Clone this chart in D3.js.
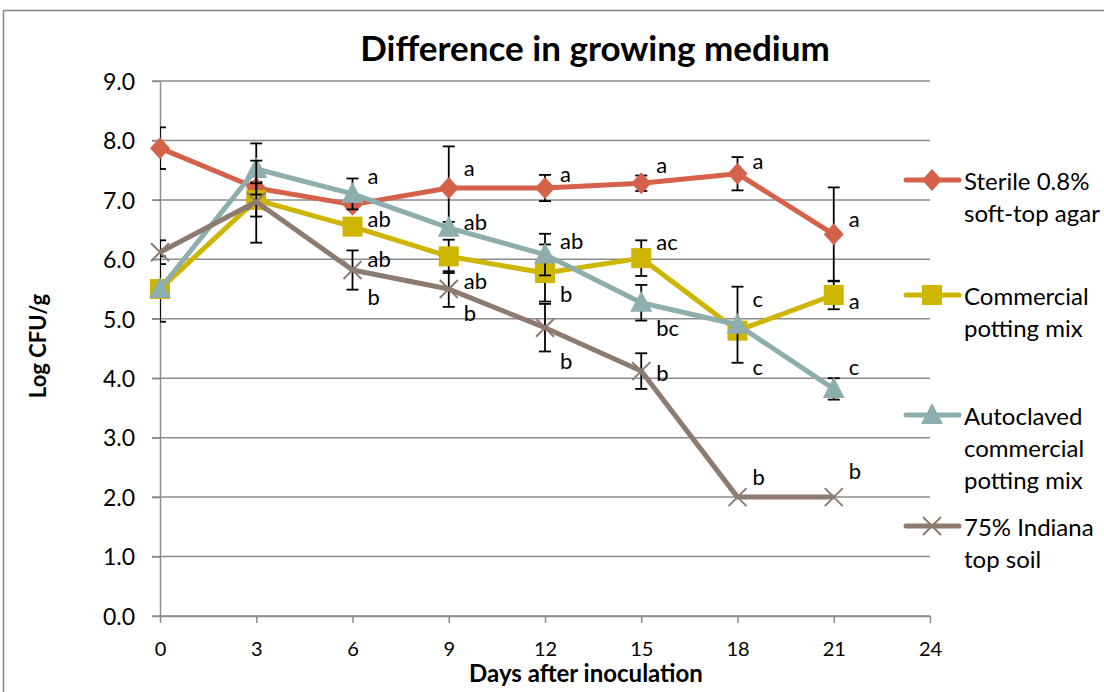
<!DOCTYPE html>
<html>
<head>
<meta charset="utf-8">
<script src="https://cdn.jsdelivr.net/npm/d3@7"></script>
<style>
  body { margin: 0; background: #fff; }
  svg { display: block; font-family: Lato, "Liberation Sans", sans-serif; }
</style>
</head>
<body>
<svg id="chart" width="1104" height="692"></svg>
<script>
// values
const days = [0, 3, 6, 9, 12, 15, 18, 21];
const xTicks = [0, 3, 6, 9, 12, 15, 18, 21, 24];
const yTicks = [0, 1, 2, 3, 4, 5, 6, 7, 8, 9];

const sterile = [7.87, 7.2, 6.92, 7.2, 7.2, 7.28, 7.44, 6.42];
const sterileErr = [0.35, 0.1, 0.05, 0.7, 0.22, 0.13, 0.28, 0.79];
const potting = [5.5, 7.0, 6.55, 6.05, 5.77, 6.02, 4.8, 5.4];
const pottingErr = [0.55, 0.28, 0.1, 0.28, 0.48, 0.3, 0.12, 0.24];
const autoclaved = [5.5, 7.52, 7.1, 6.53, 6.08, 5.27, 4.9, 3.82];
const autoclavedErr = [0.1, 0.43, 0.26, 0.1, 0.35, 0.3, 0.64, 0.18];
const indiana = [6.12, 6.97, 5.82, 5.5, 4.85, 4.12, 2.0, 2.0];
const indianaErr = [0.2, 0.69, 0.33, 0.3, 0.4, 0.3, 0, 0];

// significance letters: day, value where the letter sits, text
const letters = [
  [6, 7.39, "a"], [6, 6.66, "ab"], [6, 5.99, "ab"], [6, 5.35, "b"],
  [9, 7.52, "a"], [9, 6.61, "ab"], [9, 5.62, "ab"], [9, 5.08, "b"],
  [12, 7.42, "a"], [12, 6.29, "ab"], [12, 5.4, "b"], [12, 4.27, "b"],
  [15, 7.57, "a"], [15, 6.28, "ac"], [15, 4.83, "bc"], [15, 4.07, "b"],
  [18, 7.64, "a"], [18, 5.32, "c"], [18, 4.17, "c"], [18, 2.32, "b"],
  [21, 6.66, "a"], [21, 5.28, "a"], [21, 4.17, "c"], [21, 2.42, "b"]
];

const seriesNames = [
  ["Sterile 0.8%", "soft-top agar"],
  ["Commercial", "potting mix"],
  ["Autoclaved", "commercial", "potting mix"],
  ["75% Indiana", "top soil"]
];

const series = [
  { name: seriesNames[0], values: sterile, err: sterileErr, color: "#d6614a", marker: "diamond" },
  { name: seriesNames[1], values: potting, err: pottingErr, color: "#cdb500", marker: "square" },
  { name: seriesNames[2], values: autoclaved, err: autoclavedErr, color: "#8daead", marker: "triangle" },
  { name: seriesNames[3], values: indiana, err: indianaErr, color: "#8d7b70", marker: "cross" }
];

const svg = d3.select("#chart");
const plotLeft = 160, plotRight = 930, plotTop = 81, plotBottom = 616;

const x = d3.scaleLinear().domain([0, 24]).range([plotLeft, plotRight]);
const y = d3.scaleLinear().domain([0, 9]).range([plotBottom, plotTop]);

// outer chart frame
svg.append("path")
  .attr("d", "M3.5,692 V10.5 H1104")
  .attr("fill", "none")
  .attr("stroke", "#868686")
  .attr("stroke-width", 1.5);

// title
svg.append("text")
  .attr("x", 595).attr("y", 61)
  .attr("text-anchor", "middle")
  .style("font-size", "35px").style("font-weight", "bold")
  .text("Difference in growing medium");

// gridlines
svg.append("g")
  .selectAll("line")
  .data(yTicks)
  .enter().append("line")
  .attr("x1", plotLeft - 8).attr("x2", plotRight)
  .attr("y1", d => y(d)).attr("y2", d => y(d))
  .attr("stroke", "#8c8c8c").attr("stroke-width", 1.5);

// y axis
const yAxis = svg.append("g")
  .attr("transform", `translate(${plotLeft},0)`)
  .call(d3.axisLeft(y).tickValues(yTicks).tickFormat(d3.format(".1f")).tickSize(8).tickSizeOuter(0));
yAxis.select(".domain").attr("stroke", "#8c8c8c").attr("stroke-width", 1.5);
yAxis.selectAll(".tick line").attr("stroke", "#8c8c8c").attr("stroke-width", 1.5);
yAxis.selectAll("text").attr("x", -25).attr("dy", "0.36em")
  .style("font-size", "23px").style("font-family", "Lato").attr("fill", "#000");

// x axis
const xAxis = svg.append("g")
  .attr("transform", `translate(0,${plotBottom})`)
  .call(d3.axisBottom(x).tickValues(xTicks).tickSize(7).tickSizeOuter(0));
xAxis.select(".domain").attr("stroke", "#8c8c8c").attr("stroke-width", 1.5);
xAxis.selectAll(".tick line").attr("stroke", "#8c8c8c").attr("stroke-width", 1.5);
xAxis.selectAll("text").attr("y", 40).attr("dy", 0)
  .style("font-size", "20px").style("font-family", "Lato").attr("fill", "#000");

// axis titles
svg.append("text")
  .attr("x", 586).attr("y", 682)
  .attr("text-anchor", "middle")
  .style("font-size", "24px").style("font-weight", "bold")
  .text("Days after inoculation");

svg.append("text")
  .attr("transform", "translate(46,346) rotate(-90)")
  .attr("text-anchor", "middle")
  .style("font-size", "22px").style("font-weight", "bold")
  .text("Log CFU/g");

// marker drawing
function drawMarker(g, type, color) {
  if (type === "diamond") {
    g.append("path").attr("d", "M0,-11 L10,0 L0,11 L-10,0 Z").attr("fill", color);
  } else if (type === "square") {
    g.append("rect").attr("x", -10).attr("y", -10).attr("width", 20).attr("height", 20).attr("fill", color);
  } else if (type === "triangle") {
    g.append("path").attr("d", "M0,-12 L11,9 L-11,9 Z").attr("fill", color);
  } else {
    g.append("path").attr("d", "M-9,-9 L9,9 M-9,9 L9,-9")
      .attr("stroke", color).attr("stroke-width", 2);
  }
}

svg.append("clipPath").attr("id", "plotClip")
  .append("rect").attr("x", plotLeft).attr("y", 0).attr("width", plotRight - plotLeft).attr("height", 692);

const line = d3.line().x((d, i) => x(days[i])).y(d => y(d));

series.forEach(s => {
  const g = svg.append("g");
  // error bars
  const eb = g.append("g").attr("clip-path", "url(#plotClip)");
  s.values.forEach((v, i) => {
    const e = s.err[i];
    if (!e) return;
    const cx = x(days[i]);
    eb.append("line").attr("x1", cx).attr("x2", cx)
      .attr("y1", y(v + e)).attr("y2", y(v - e));
    [v + e, v - e].forEach(t => {
      eb.append("line").attr("x1", cx - 6).attr("x2", cx + 6)
        .attr("y1", y(t)).attr("y2", y(t));
    });
  });
  eb.selectAll("line").attr("stroke", "#000").attr("stroke-width", 1.8);

  g.append("path")
    .datum(s.values)
    .attr("d", line)
    .attr("fill", "none")
    .attr("stroke", s.color)
    .attr("stroke-width", 5)
    .attr("stroke-linejoin", "round");

  s.values.forEach((v, i) => {
    const m = g.append("g").attr("transform", `translate(${x(days[i])},${y(v)})`);
    drawMarker(m, s.marker, s.color);
  });
});

// significance letters
svg.append("g")
  .selectAll("text")
  .data(letters)
  .enter().append("text")
  .attr("x", d => x(d[0]) + 15)
  .attr("y", d => y(d[1]) + 7)
  .style("font-size", "22px")
  .text(d => d[2]);

// legend
const legendY = [180, 295, 415, 526];
const legend = svg.append("g");
series.forEach((s, i) => {
  const g = legend.append("g").attr("transform", `translate(0,${legendY[i]})`);
  g.append("line").attr("x1", 906).attr("x2", 959).attr("y1", 0).attr("y2", 0)
    .attr("stroke", s.color).attr("stroke-width", 5).attr("stroke-linecap", "round");
  const m = g.append("g").attr("transform", "translate(932,0)");
  drawMarker(m, s.marker, s.color);
  s.name.forEach((t, j) => {
    g.append("text").attr("x", 964).attr("y", 10 + j * 32)
      .style("font-size", "24px").text(t);
  });
});
</script>
</body>
</html>
